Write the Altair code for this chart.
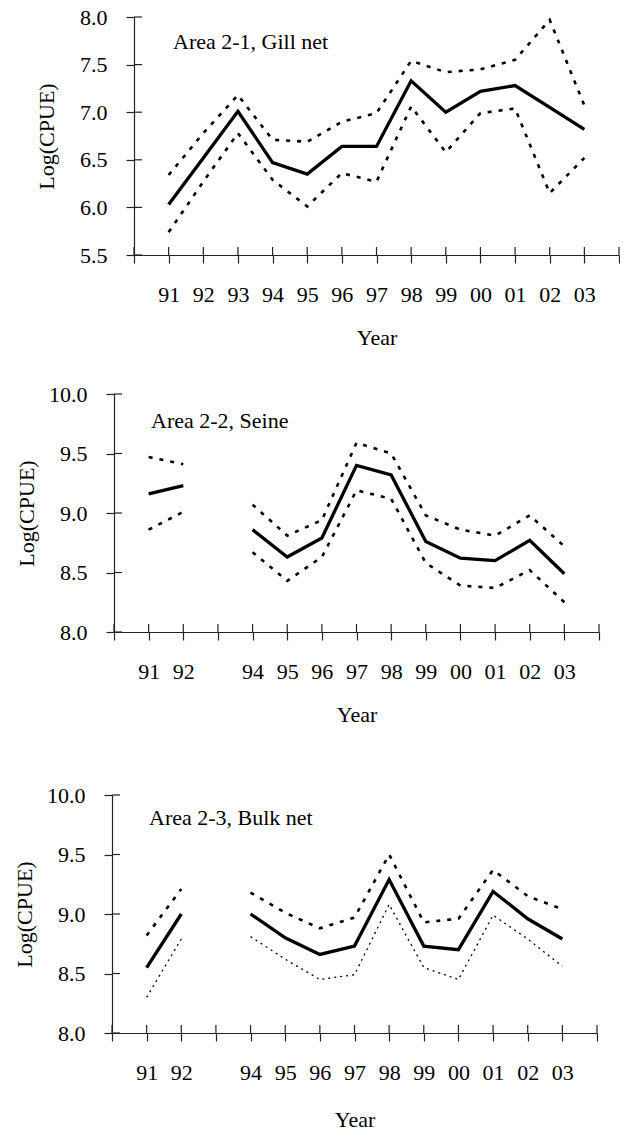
import altair as alt
import pandas as pd

# Year tick labels (positions 1..13 on the x scale; 0 and 14 are blank end ticks)
YEARS = ["91", "92", "93", "94", "95", "96", "97", "98", "99", "00", "01", "02", "03"]

# Area 2-1, gill net: log(CPUE) estimate with upper / lower bounds
GILL_MEAN = [6.03, 6.52, 7.01, 6.47, 6.35, 6.64, 6.64, 7.33, 7.00, 7.22, 7.28, 7.05, 6.82]
GILL_UPPER = [6.34, 6.78, 7.18, 6.71, 6.69, 6.90, 6.99, 7.54, 7.42, 7.45, 7.55, 7.97, 7.07]
GILL_LOWER = [5.74, 6.27, 6.78, 6.29, 6.01, 6.36, 6.27, 7.06, 6.58, 6.99, 7.04, 6.15, 6.52]

# Area 2-2, seine (no 1993 estimate)
SEINE_MEAN = [9.16, 9.23, None, 8.86, 8.63, 8.79, 9.40, 9.32, 8.76, 8.62, 8.60, 8.77, 8.49]
SEINE_UPPER = [9.47, 9.41, None, 9.07, 8.81, 8.94, 9.59, 9.50, 8.98, 8.86, 8.81, 8.98, 8.72]
SEINE_LOWER = [8.86, 9.01, None, 8.67, 8.43, 8.63, 9.19, 9.12, 8.58, 8.39, 8.37, 8.52, 8.25]

# Area 2-3, bulk net (no 1993 estimate)
BULK_MEAN = [8.55, 9.00, None, 9.00, 8.80, 8.66, 8.73, 9.29, 8.73, 8.70, 9.19, 8.96, 8.79]
BULK_UPPER = [8.82, 9.21, None, 9.18, 9.01, 8.88, 8.97, 9.50, 8.93, 8.96, 9.37, 9.15, 9.04]
BULK_LOWER = [8.30, 8.79, None, 8.81, 8.62, 8.45, 8.49, 9.08, 8.55, 8.45, 8.99, 8.79, 8.56]

GILL_TICKS = [5.5, 6.0, 6.5, 7.0, 7.5, 8.0]
HIGH_TICKS = [8.0, 8.5, 9.0, 9.5, 10.0]

FONT = "Liberation Serif"
W, H = 485, 238
INK = "#222222"
TICK = 8


def series_frame(values):
    """Long table of one series; a missing year starts a new line segment."""
    rows, seg = [], 0
    for i, v in enumerate(values):
        if v is None:
            seg += 1
            continue
        rows.append({"pos": i + 1, "value": v, "seg": seg})
    return pd.DataFrame(rows)


def panel(label, mean, upper, lower, yticks, show93, lx, ly, year_dy, lower_thin=False):
    labels = [""] + [y if (show93 or y != "93") else "" for y in YEARS] + [""]
    label_expr = "[" + ",".join("'%s'" % s for s in labels) + "][datum.value]"

    x_enc = alt.X(
        "pos:Q",
        scale=alt.Scale(domain=[0, 14], nice=False, zero=False),
        axis=alt.Axis(
            values=list(range(15)), labelExpr=label_expr, title="Year",
            tickSize=TICK, labelPadding=21, labelOverlap=False, labelFlush=False,
            titleY=year_dy, titleBaseline="alphabetic", grid=False,
        ),
    )
    y_enc = alt.Y(
        "value:Q",
        scale=alt.Scale(domain=[yticks[0], yticks[-1]], nice=False, zero=False),
        axis=alt.Axis(
            values=yticks, format=".1f", title="Log(CPUE)", tickSize=TICK,
            labelPadding=19, titleX=-88, titleY=H / 2, titleBaseline="middle",
            grid=False,
        ),
    )

    def line(values, width, dash=None):
        kw = dict(color="black", strokeWidth=width, strokeCap="butt")
        if dash:
            kw["strokeDash"] = dash
        return alt.Chart(series_frame(values)).mark_line(**kw).encode(
            x=x_enc, y=y_enc, detail="seg:N"
        )

    # inner halves of the axis ticks, so every tick crosses its axis line
    ytick_in = alt.Chart(pd.DataFrame({"value": yticks})).mark_rule(
        color=INK, strokeWidth=1.2
    ).encode(y=y_enc, x=alt.value(0), x2=alt.value(TICK))
    xtick_in = alt.Chart(pd.DataFrame({"pos": list(range(15))})).mark_rule(
        color=INK, strokeWidth=1.2
    ).encode(x=x_enc, y=alt.value(H - TICK), y2=alt.value(H))

    note = alt.Chart(pd.DataFrame({"t": [label]})).mark_text(
        align="left", baseline="middle", font=FONT, fontSize=22, color="black"
    ).encode(text="t:N", x=alt.value(lx), y=alt.value(ly))

    low = line(lower, 1.3, [2, 4]) if lower_thin else line(lower, 2.6, [4, 7])
    return alt.layer(
        ytick_in, xtick_in,
        line(upper, 2.6, [4, 7]), low, line(mean, 3.3), note,
    ).properties(width=W, height=H)


def spacer(w, h):
    return alt.Chart(pd.DataFrame({"z": [0]})).mark_rule(strokeOpacity=0).encode(
        x=alt.value(0), x2=alt.value(w), y=alt.value(0), y2=alt.value(h)
    ).properties(width=w, height=h)


p1 = panel("Area 2-1, Gill net", GILL_MEAN, GILL_UPPER, GILL_LOWER, GILL_TICKS,
           True, 39, 25, 89)
p2 = panel("Area 2-2, Seine", SEINE_MEAN, SEINE_UPPER, SEINE_LOWER, HIGH_TICKS,
           False, 37, 27, 89)
p3 = panel("Area 2-3, Bulk net", BULK_MEAN, BULK_UPPER, BULK_LOWER, HIGH_TICKS,
           False, 37, 23, 93, lower_thin=True)

chart = alt.vconcat(
    alt.hconcat(spacer(34, 1), p1, spacing=0),
    spacer(1, 35),
    alt.hconcat(spacer(14, 1), p2, spacing=0),
    spacer(1, 59),
    alt.hconcat(spacer(12, 1), p3, spacing=0),
    spacing=0,
).properties(
    padding={"left": 0, "top": 6, "right": 0, "bottom": 0}
).configure_view(
    strokeWidth=0
).configure_axis(
    labelFont=FONT, titleFont=FONT, labelFontSize=22, titleFontSize=22,
    titleFontWeight="normal", labelColor="black", titleColor="black",
    domainColor=INK, tickColor=INK, domainWidth=1.2, tickWidth=1.2,
)

chart.save("out.html", embed_options={"renderer": "svg", "actions": False})
